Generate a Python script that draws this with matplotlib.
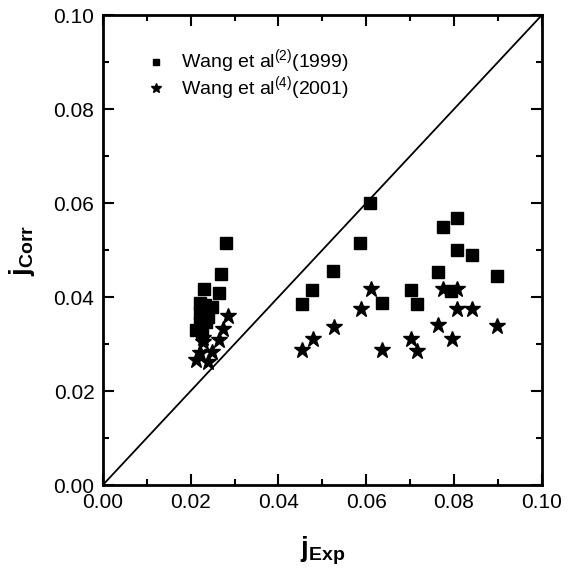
import matplotlib
matplotlib.use("Agg")
import matplotlib.pyplot as plt
from matplotlib.ticker import MultipleLocator

plt.rcParams['font.family'] = ['Liberation Sans', 'DejaVu Sans']
plt.rcParams['mathtext.fontset'] = 'custom'
plt.rcParams['mathtext.rm'] = 'Liberation Sans'
plt.rcParams['mathtext.bf'] = 'Liberation Sans:bold'

# Wang et al (1999) - squares
exp_1999 = [0.0608, 0.0585, 0.0525, 0.0477, 0.0453, 0.0636, 0.0701, 0.0716,
            0.0763, 0.0774, 0.0806, 0.0807, 0.0842, 0.0897, 0.0794,
            0.0280, 0.0270, 0.0231, 0.0265, 0.0221, 0.0232, 0.0248, 0.0221,
            0.0240, 0.0221, 0.0236, 0.0213, 0.0225]
corr_1999 = [0.0601, 0.0516, 0.0456, 0.0416, 0.0385, 0.0387, 0.0416, 0.0385,
             0.0454, 0.0550, 0.0569, 0.0501, 0.0489, 0.0445, 0.0413,
             0.0514, 0.0450, 0.0418, 0.0408, 0.0387, 0.0383, 0.0379, 0.0365,
             0.0358, 0.0344, 0.0347, 0.0330, 0.0323]

# Wang et al (2001) - stars
exp_2001 = [0.0610, 0.0588, 0.0527, 0.0478, 0.0453, 0.0636, 0.0701, 0.0716,
            0.0763, 0.0774, 0.0796, 0.0807, 0.0807, 0.0842, 0.0897,
            0.0284, 0.0273, 0.0265, 0.0229, 0.0248, 0.0221, 0.0213, 0.0240, 0.0229]
corr_2001 = [0.0417, 0.0374, 0.0337, 0.0310, 0.0287, 0.0287, 0.0310, 0.0286,
             0.0340, 0.0417, 0.0310, 0.0417, 0.0374, 0.0374, 0.0339,
             0.0360, 0.0333, 0.0309, 0.0305, 0.0284, 0.0280, 0.0266, 0.0262, 0.0312]

fig = plt.figure(figsize=(5.68, 5.71), dpi=100)
ax = fig.add_axes([0.181, 0.1506, 0.773, 0.823])

ax.plot([0, 0.1], [0, 0.1], color='black', lw=1.3)
ax.plot(exp_1999, corr_1999, 's', color='black', markersize=8,
        label=r'Wang et al$^{(2)}$(1999)')
ax.plot(exp_2001, corr_2001, '*', color='black', markersize=12,
        label=r'Wang et al$^{(4)}$(2001)')

ax.set_xlim(0, 0.1)
ax.set_ylim(0, 0.1)
ax.xaxis.set_major_locator(MultipleLocator(0.02))
ax.xaxis.set_minor_locator(MultipleLocator(0.01))
ax.yaxis.set_major_locator(MultipleLocator(0.02))
ax.yaxis.set_minor_locator(MultipleLocator(0.01))
ax.xaxis.set_major_formatter(lambda v, p: f"{v:.2f}")
ax.yaxis.set_major_formatter(lambda v, p: f"{v:.2f}")
ax.tick_params(which='both', direction='in', top=True, right=True, width=1.5,
               labelsize=15)
ax.tick_params(which='major', length=8, pad=6)
ax.tick_params(which='minor', length=4)
for s in ax.spines.values():
    s.set_linewidth(2)

ax.set_xlabel(r'$\mathbf{j_{Exp}}$', fontsize=20, labelpad=16)
ax.set_ylabel(r'$\mathbf{j_{Corr}}$', fontsize=20, labelpad=12)

ax.legend(loc='upper left', frameon=False, fontsize=14, markerscale=0.6,
          handlelength=1.4, handletextpad=0.6, bbox_to_anchor=(0.063, 0.955),
          labelspacing=-0.1, borderaxespad=0.2)

fig.savefig('out.png', dpi=100)
